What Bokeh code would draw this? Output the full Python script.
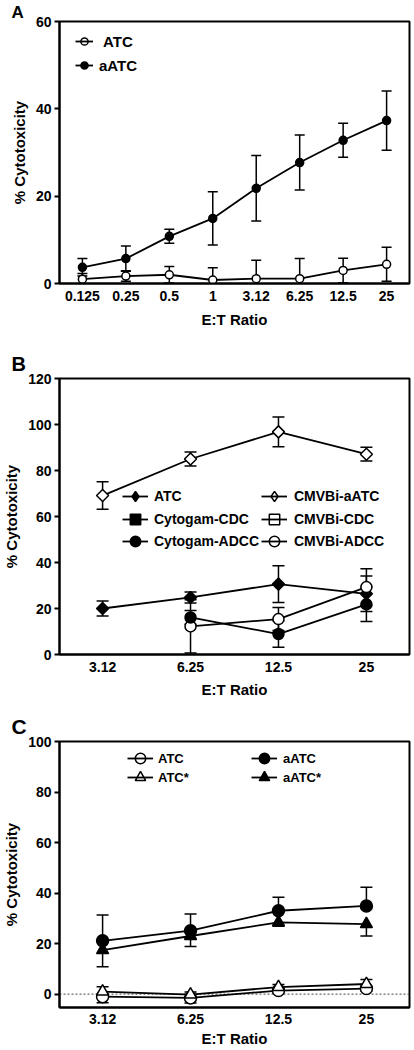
import numpy as np
from bokeh.plotting import figure
from bokeh.models import (ColumnDataSource, Whisker, TeeHead, Legend, LegendItem,
                          FixedTicker, Span, Range1d)
from bokeh.layouts import column
from bokeh.embed import file_html
from bokeh.resources import INLINE

FONT = "Liberation Sans"

# ---------------- Panel A data ----------------
a_ratios = ["0.125", "0.25", "0.5", "1", "3.12", "6.25", "12.5", "25"]
a_atc = [1.0, 1.7, 2.0, 0.8, 1.1, 1.1, 3.0, 4.4]
a_atc_err = [1.3, 1.2, 1.9, 2.8, 4.2, 4.6, 2.8, 3.9]
a_aatc = [3.7, 5.7, 10.8, 14.9, 21.8, 27.7, 32.8, 37.3]
a_aatc_err = [2.0, 2.9, 1.6, 6.1, 7.5, 6.3, 3.9, 6.8]
a_yticks = [0, 20, 40, 60]

# ---------------- Panel B data ----------------
b_ratios = ["3.12", "6.25", "12.5", "25"]
b_atc = [20.0, 24.8, 30.6, 26.4]
b_atc_err = [3.3, 2.4, 8.0, 7.7]
b_cmvbi_aatc = [69.1, 85.0, 96.8, 87.1]
b_cmvbi_aatc_err = [6.0, 3.0, 6.5, 3.0]
b_adcc_ratios = ["6.25", "12.5", "25"]
b_cytogam_adcc = [16.1, 8.9, 21.8]
b_cytogam_adcc_err = [3.0, 5.7, 7.4]
b_cmvbi_adcc = [12.2, 15.4, 29.3]
b_cmvbi_adcc_err = [11.6, 5.0, 8.0]
b_cdc_ratios = []          # CDC series: no points visible in the figure
b_cytogam_cdc = []
b_cmvbi_cdc = []
b_yticks = [0, 20, 40, 60, 80, 100, 120]

# ---------------- Panel C data ----------------
c_ratios = ["3.12", "6.25", "12.5", "25"]
c_atc = [-1.0, -1.5, 1.4, 2.2]
c_atc_err = [2.4, 2.0, 1.0, 1.0]
c_atc_star = [1.0, -0.2, 2.8, 4.0]
c_atc_star_err = [1.9, 1.0, 1.0, 1.8]
c_aatc = [21.1, 25.1, 33.0, 34.9]
c_aatc_err = [10.2, 6.6, 5.3, 7.4]
c_aatc_star = [17.4, 23.0, 28.4, 27.7]
c_aatc_star_err = [6.6, 4.2, 1.5, 4.7]
c_yticks = [0, 20, 40, 60, 80, 100]


def make_fig(cats, y0, y1, yticks, height, btop, bbottom, bright, pad,
             tick_standoff, xlabel_standoff, letter, letter_size, letter_standoff):
    n = len(cats)
    p = figure(width=414, height=height,
               x_range=Range1d(-pad, n - 1 + pad), y_range=Range1d(y0, y1),
               output_backend="svg", toolbar_location=None,
               min_border_left=54, min_border_right=bright,
               min_border_top=btop, min_border_bottom=bbottom)
    p.grid.visible = False
    p.outline_line_color = "black"
    p.outline_line_width = 2
    p.background_fill_color = "white"
    p.border_fill_color = "white"

    p.title.text = letter
    p.title.align = "left"
    p.title.offset = -48
    p.title.standoff = letter_standoff
    p.title.vertical_align = "bottom"
    p.title.text_font = FONT
    p.title.text_font_style = "bold"
    p.title.text_font_size = letter_size
    p.title.text_color = "black"

    xa = p.xaxis[0]
    xa.ticker = FixedTicker(ticks=list(range(n)))
    xa.major_label_overrides = {i: c for i, c in enumerate(cats)}
    xa.major_tick_out = 0
    xa.major_tick_in = 0
    xa.minor_tick_out = 0
    xa.minor_tick_in = 0
    xa.major_label_standoff = tick_standoff
    xa.axis_label = "E:T Ratio"
    xa.axis_label_standoff = xlabel_standoff

    ya = p.yaxis[0]
    ya.ticker = FixedTicker(ticks=yticks)
    ya.major_tick_out = 5
    ya.major_tick_in = 0
    ya.minor_tick_out = 0
    ya.minor_tick_in = 0
    ya.major_label_standoff = 3
    ya.axis_label = "% Cytotoxicity"
    ya.axis_label_standoff = 5

    for ax in (xa, ya):
        ax.axis_line_width = 2
        ax.axis_line_color = "black"
        ax.major_tick_line_width = 2
        ax.major_tick_line_color = "black"
        ax.major_label_text_font = FONT
        ax.major_label_text_font_style = "bold"
        ax.major_label_text_font_size = "14px"
        ax.major_label_text_color = "black"
        ax.axis_label_text_font = FONT
        ax.axis_label_text_font_style = "bold"
        ax.axis_label_text_font_size = "15px"
        ax.axis_label_text_color = "black"
    return p


def series(p, cats_all, cats, ys, errs, marker, fill, size, direction="both",
           angle=0.0, head=10, lw=1.8):
    xs = [cats_all.index(c) for c in cats]
    up = [y + e if direction in ("both", "up") else y for y, e in zip(ys, errs)]
    lo = [y - e if direction in ("both", "down") else y for y, e in zip(ys, errs)]
    src = ColumnDataSource(dict(x=xs, y=ys, upper=up, lower=lo))
    w = Whisker(source=src, base="x", upper="upper", lower="lower",
                line_width=1.5, line_color="black", level="underlay",
                upper_head=TeeHead(size=head, line_width=1.5, line_color="black")
                if direction in ("both", "up") else None,
                lower_head=TeeHead(size=head, line_width=1.5, line_color="black")
                if direction in ("both", "down") else None)
    p.add_layout(w)
    p.line("x", "y", source=src, line_color="black", line_width=lw)
    p.scatter("x", "y", source=src, marker=marker, size=size, angle=angle,
              fill_color=fill, line_color="black", line_width=1.5)
    return src


def key(p, src, marker, fill, line_on_top, lw=1.8):
    """Legend-key renderers: muted (fully transparent) in the plot, drawn in the legend."""
    ln = p.line("x", "y", source=src, line_color="black", line_width=lw, muted_alpha=0)
    sc = p.scatter("x", "y", source=src, marker=marker, size=10,
                   fill_color=fill, line_color="black", line_width=1.5, muted_alpha=0)
    ln.muted = True
    sc.muted = True
    return [sc, ln] if line_on_top else [ln, sc]


def add_key(p, label, renderers, vx, vy, gw, gh, standoff, fsize):
    lg = Legend(items=[LegendItem(label=label, renderers=renderers)],
                location=(vx, vy), glyph_width=gw, glyph_height=gh,
                spacing=0, label_standoff=standoff, padding=0, margin=0,
                label_text_font=FONT, label_text_font_style="bold",
                label_text_font_size=fsize, label_text_color="black",
                label_height=10, label_width=10, click_policy="none",
                border_line_alpha=0, background_fill_alpha=0)
    p.add_layout(lg)


# ---------------- Panel A ----------------
padA = 0.527
pA = make_fig(a_ratios, 0, 60, a_yticks, 330, 19, 47, 2, padA, 7, 7, "A", "17px", 0)
sA1 = series(pA, a_ratios, a_ratios, a_aatc, a_aatc_err, "circle", "black", 8, head=10)
sA0 = series(pA, a_ratios, a_ratios, a_atc, a_atc_err, "circle", "white", 8, head=10)
add_key(pA, "ATC", key(pA, sA0, "circle", "white", True), 16, 232, 18, 20, 10, "15px")
add_key(pA, "aATC", key(pA, sA1, "circle", "black", False), 16, 208, 18, 20, 6, "15px")

# ---------------- Panel B ----------------
padB = 0.49
pB = make_fig(b_ratios, 0, 120, b_yticks, 370, 48, 46, 5, padB, 7, 6, "B", "20px", 8)
sB1 = series(pB, b_ratios, b_ratios, b_cmvbi_aatc, b_cmvbi_aatc_err, "square", "white",
             8.5, angle=np.pi / 4, head=12)
sB0 = series(pB, b_ratios, b_ratios, b_atc, b_atc_err, "square", "black",
             8.5, angle=np.pi / 4, head=12)
sB5 = series(pB, b_ratios, b_adcc_ratios, b_cmvbi_adcc, b_cmvbi_adcc_err,
             "circle", "white", 11, head=12)
sB3 = series(pB, b_ratios, b_adcc_ratios, b_cytogam_adcc, b_cytogam_adcc_err,
             "circle", "black", 11, head=12)
sB2 = series(pB, b_ratios, b_cdc_ratios, b_cytogam_cdc, [], "square", "black", 10)
sB4 = series(pB, b_ratios, b_cdc_ratios, b_cmvbi_cdc, [], "square", "white", 10)
gB = dict(gw=26, gh=26, fsize="14px")
add_key(pB, "ATC", key(pB, sB0, "diamond", "black", False), 63, 145, standoff=6, **gB)
add_key(pB, "Cytogam-CDC", key(pB, sB3, "square", "black", False), 63, 122, standoff=6, **gB)
add_key(pB, "Cytogam-ADCC", key(pB, sB3, "circle", "black", False), 63, 100, standoff=6, **gB)
add_key(pB, "CMVBi-aATC", key(pB, sB1, "diamond", "white", True), 202, 145, standoff=7, **gB)
add_key(pB, "CMVBi-CDC", key(pB, sB5, "square", "white", True), 202, 122, standoff=7, **gB)
add_key(pB, "CMVBi-ADCC", key(pB, sB5, "circle", "white", True), 202, 100, standoff=7, **gB)

# ---------------- Panel C ----------------
padC = 0.49
pC = make_fig(c_ratios, -5.3, 100, c_yticks, 350, 41, 43, 5, padC, 6, 3, "C", "21px", 8)
pC.add_layout(Span(location=0, dimension="width", line_dash="2 2", line_width=1,
                   line_color="#444444", level="underlay"))
sC2 = series(pC, c_ratios, c_ratios, c_aatc, c_aatc_err, "circle", "black", 12,
             direction="up", head=12)
sC3 = series(pC, c_ratios, c_ratios, c_aatc_star, c_aatc_star_err, "triangle", "black",
             12, direction="down", head=12)
sC0 = series(pC, c_ratios, c_ratios, c_atc, c_atc_err, "circle", "white", 12,
             direction="down", head=12)
sC1 = series(pC, c_ratios, c_ratios, c_atc_star, c_atc_star_err, "triangle", "white",
             12, direction="up", head=12)
gC = dict(gw=26, gh=26, fsize="13px")
add_key(pC, "ATC", key(pC, sC0, "circle", "white", True), 68, 236, standoff=5, **gC)
add_key(pC, "ATC*", key(pC, sC1, "triangle", "white", True), 68, 217, standoff=5, **gC)
add_key(pC, "aATC", key(pC, sC2, "circle", "black", False), 192, 236, standoff=6, **gC)
add_key(pC, "aATC*", key(pC, sC3, "triangle", "black", False), 192, 217, standoff=6, **gC)

layout = column(pA, pB, pC, spacing=0)
open("out.html", "w").write(file_html(layout, INLINE))
